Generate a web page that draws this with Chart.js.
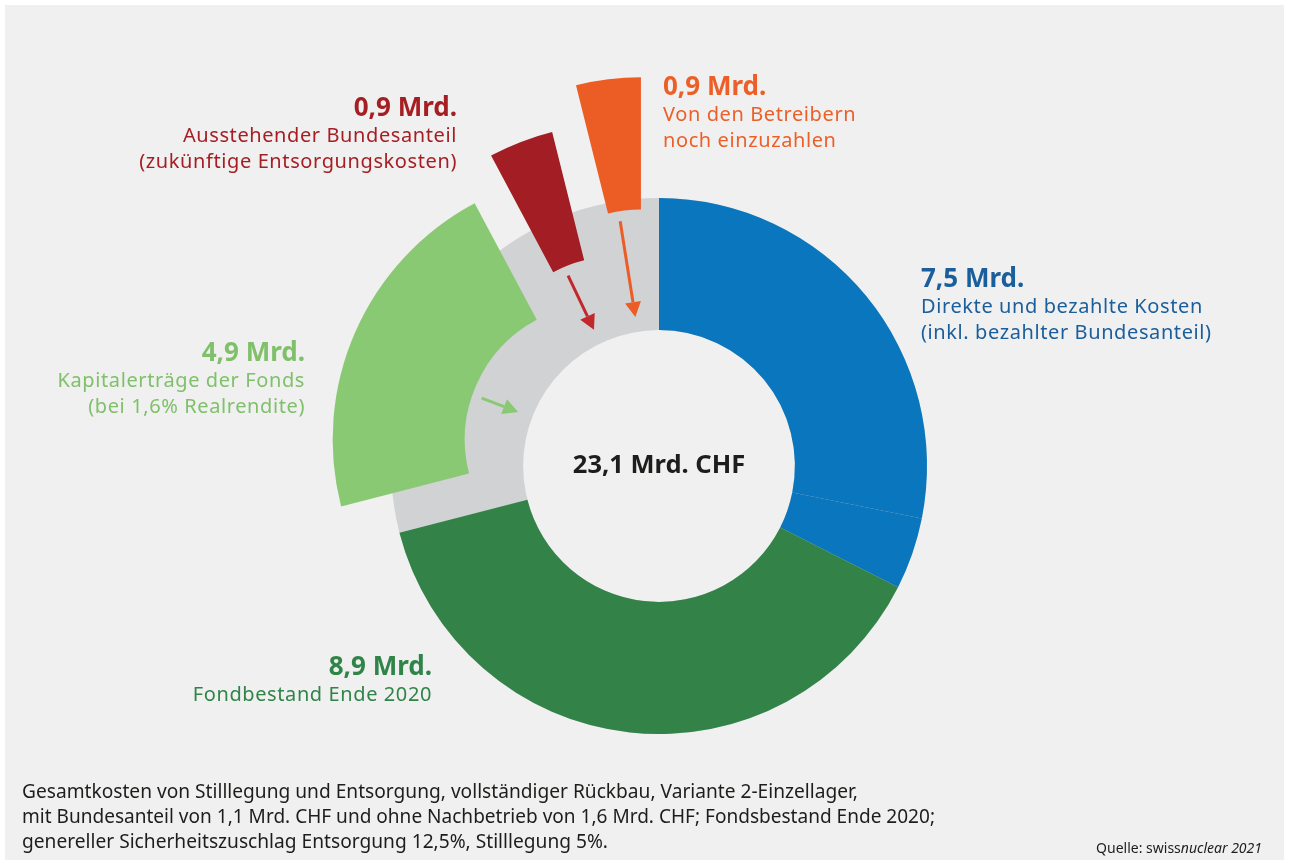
<!DOCTYPE html>
<html lang="de">
<head>
<meta charset="utf-8">
<title>Kosten Stilllegung und Entsorgung</title>
<script src="https://cdn.jsdelivr.net/npm/chart.js@4.4.1/dist/chart.umd.min.js"></script>
<style>
html,body{margin:0;padding:0;background:#fff;}
#wrap{position:relative;width:1289px;height:865px;overflow:hidden;font-family:"Noto Sans",sans-serif;}
#panel{position:absolute;left:5px;top:5px;width:1279px;height:855px;background:#f0f0f0;}
#chart{position:absolute;left:0;top:0;}
.t{position:absolute;white-space:nowrap;line-height:1;}
</style>
</head>
<body>
<div id="wrap">
  <div id="panel"></div>
  <canvas id="chart" width="1289" height="865"></canvas>
</div>
<script>
// Werte in Mrd. CHF, im Uhrzeigersinn ab 12 Uhr
const segLabels = ["Direkte Kosten", "Bezahlter Bundesanteil", "Fondbestand Ende 2020",
  "Kapitalerträge der Fonds", "Ausstehender Bundesanteil", "Von den Betreibern noch einzuzahlen"];
const segValues = [6.5, 1.0, 8.9, 4.9, 0.9, 0.9];
const centerLabel = "23,1 Mrd. CHF";

const calloutAmounts = ["7,5 Mrd.", "8,9 Mrd.", "4,9 Mrd.", "0,9 Mrd.", "0,9 Mrd."];
const calloutTexts = [
  ["Direkte und bezahlte Kosten", "(inkl. bezahlter Bundesanteil)"],
  ["Fondbestand Ende 2020"],
  ["Kapitalerträge der Fonds", "(bei 1,6% Realrendite)"],
  ["Ausstehender Bundesanteil", "(zukünftige Entsorgungskosten)"],
  ["Von den Betreibern", "noch einzuzahlen"]
];
const footnote = [
  "Gesamtkosten von Stilllegung und Entsorgung, vollständiger Rückbau, Variante 2-Einzellager,",
  "mit Bundesanteil von 1,1 Mrd. CHF und ohne Nachbetrieb von 1,6 Mrd. CHF; Fondsbestand Ende 2020;",
  "genereller Sicherheitszuschlag Entsorgung 12,5%, Stilllegung 5%."
];

// Stil / Layout
const segColors = ["#0a76bd", "#0a76bd", "#338349", "#8ac973", "#a21d24", "#ec5d26"];
const explode = [0, 0, 0, 64, 85, 122];
const explodeTurn = [0, 0, 0, 0.5, -8.5, -1.5];
const arrowColors = [null, null, null, "#8ac973", "#c1272d", "#ec5d26"];
const arrowTurn = [0, 0, 0, -2.8, -4.5, -2];
const calloutColors = ["#1a5e9c", "#2f8447", "#80c06b", "#a51e23", "#ec5f27"];
const calloutPos = [
  {x:921, y:287, align:"left"},
  {x:432, y:675, align:"right"},
  {x:305, y:361, align:"right"},
  {x:457, y:116, align:"right"},
  {x:663, y:95, align:"left"}
];
const footWidths = [836, 913, 586];

function drawArrow(ctx, x1, y1, x2, y2, color) {
  const a = Math.atan2(y2 - y1, x2 - x1), hl = 15, hw = 8;
  const bx = x2 - Math.cos(a) * hl, by = y2 - Math.sin(a) * hl;
  ctx.save();
  ctx.strokeStyle = color; ctx.fillStyle = color; ctx.lineWidth = 3;
  ctx.beginPath(); ctx.moveTo(x1, y1); ctx.lineTo(bx, by); ctx.stroke();
  ctx.beginPath();
  ctx.moveTo(x2, y2);
  ctx.lineTo(bx + Math.sin(a) * hw, by - Math.cos(a) * hw);
  ctx.lineTo(bx - Math.sin(a) * hw, by + Math.cos(a) * hw);
  ctx.closePath(); ctx.fill();
  ctx.restore();
}

// grauer Ring + herausgezogene Segmente + Pfeile
const explodePlugin = {
  id: "explodedRing",
  beforeDatasetDraw(chart, args) {
    const ctx = chart.ctx, arcs = args.meta.data, a0 = arcs[0];
    ctx.save();
    ctx.beginPath();
    ctx.arc(a0.x, a0.y, a0.outerRadius, 0, Math.PI * 2);
    ctx.arc(a0.x, a0.y, a0.innerRadius, 0, Math.PI * 2, true);
    ctx.fillStyle = "#d1d2d4";
    ctx.fill();
    ctx.restore();
    arcs.forEach((arc, i) => {
      const mid = (arc.startAngle + arc.endAngle) / 2 + explodeTurn[i] * Math.PI / 180;
      ctx.save();
      ctx.translate(Math.cos(mid) * explode[i], Math.sin(mid) * explode[i]);
      arc.draw(ctx);
      ctx.restore();
      if (arrowColors[i]) {
        const ang = (arc.startAngle + arc.endAngle) / 2 + arrowTurn[i] * Math.PI / 180;
        const r1 = arc.innerRadius + explode[i] - 10, r2 = arc.innerRadius + 15;
        drawArrow(ctx, arc.x + Math.cos(ang) * r1, arc.y + Math.sin(ang) * r1,
                  arc.x + Math.cos(ang) * r2, arc.y + Math.sin(ang) * r2, arrowColors[i]);
      }
    });
    return false;
  }
};

new Chart(document.getElementById("chart"), {
  type: "doughnut",
  data: { labels: segLabels, datasets: [{ data: segValues, backgroundColor: segColors, borderWidth: 0 }] },
  options: {
    responsive: false, animation: false, events: [],
    radius: 268, cutout: "50.7%",
    layout: { padding: { left: 29, top: 67, right: 0, bottom: 0 } },
    plugins: { legend: { display: false }, tooltip: { enabled: false } }
  },
  plugins: [explodePlugin]
});

const wrap = document.getElementById("wrap");
function addText(txt, x, base, size, o) {
  o = o || {};
  const d = document.createElement("div");
  d.className = "t";
  d.textContent = txt;
  d.style.fontSize = size + "px";
  d.style.top = (base - 0.888 * size) + "px";
  if (o.align === "right") d.style.right = (1289 - x) + "px";
  else if (o.align === "center") { d.style.left = x + "px"; d.style.transform = "translateX(-50%)"; }
  else d.style.left = x + "px";
  d.style.color = o.color || "#1d1d1b";
  if (o.bold) d.style.fontWeight = "700";
  if (o.ls) d.style.letterSpacing = o.ls + "px";
  wrap.appendChild(d);
  return d;
}

calloutAmounts.forEach((amt, i) => {
  const p = calloutPos[i], c = calloutColors[i];
  addText(amt, p.x, p.y, 26, {align: p.align, color: c, bold: true});
  calloutTexts[i].forEach((ln, j) => {
    addText(ln, p.x, p.y + 27 + j * 26, 20, {align: p.align, color: c, ls: 0.6});
  });
});

addText(centerLabel, 659, 474, 25.5, {align: "center", bold: true});

const footEls = footnote.map((ln, i) => addText(ln, 22, 799 + i * 25, 19));
const src = addText("Quelle: swiss", 1262, 853, 14, {align: "right"});
const it = document.createElement("i");
it.textContent = "nuclear 2021";
src.appendChild(it);

function fitFoot() {
  footEls.forEach((el, i) => {
    el.style.transform = "none";
    const w = el.getBoundingClientRect().width;
    el.style.transformOrigin = "0 0";
    el.style.transform = "scaleX(" + (footWidths[i] / w) + ")";
  });
}
fitFoot();
if (document.fonts) document.fonts.ready.then(fitFoot);
</script>
</body>
</html>
